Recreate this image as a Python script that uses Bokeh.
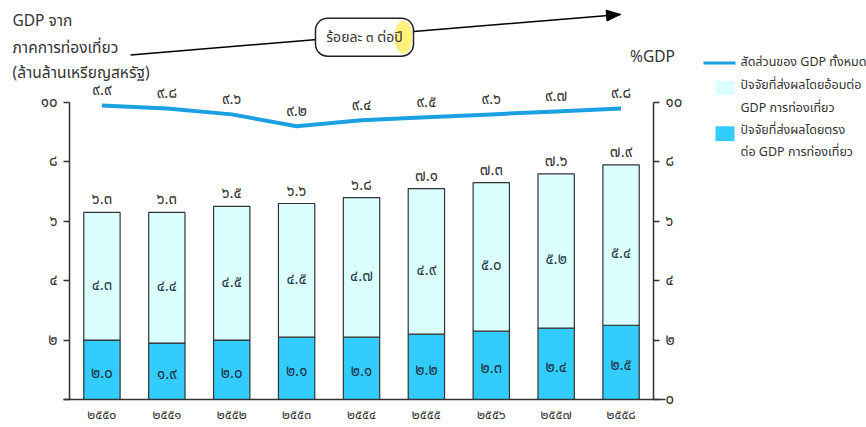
import math
from bokeh.plotting import figure
from bokeh.models import Range1d, FixedTicker, LinearAxis, ColumnDataSource
from bokeh.core.properties import value
from bokeh.embed import file_html
from bokeh.resources import INLINE

# ---------------- data ----------------
years = ["2550", "2551", "2552", "2553", "2554", "2555", "2556", "2557", "2558"]
direct = [2.0, 1.9, 2.0, 2.1, 2.1, 2.2, 2.3, 2.4, 2.5]
indirect = [4.3, 4.4, 4.5, 4.5, 4.7, 4.9, 5.0, 5.2, 5.4]
total = [6.3, 6.3, 6.5, 6.6, 6.8, 7.1, 7.3, 7.6, 7.9]
pct_gdp = [9.9, 9.8, 9.6, 9.2, 9.4, 9.5, 9.6, 9.7, 9.8]
y_ticks = [0, 2, 4, 6, 8, 10]

TH = str.maketrans("0123456789", "๐๑๒๓๔๕๖๗๘๙")
def th(s):
    return str(s).translate(TH)

FONT = "Tahoma, Noto Sans Thai, Noto Sans, DejaVu Sans, sans-serif"
TXT = "#333333"
LIGHT = "#DBFEFF"
BLUE = "#33CCFF"
LINE = "#1BA1E2"

xs = list(range(len(years)))
tops = [d + i for d, i in zip(direct, indirect)]
src = ColumnDataSource(dict(
    x=xs, direct=direct, tops=tops, total=total, pct=pct_gdp,
    total_lbl=[th(f"{v:.1f}") for v in total],
    dir_lbl=[th(f"{v:.1f}") for v in direct],
    ind_lbl=[th(f"{v:.1f}") for v in indirect],
    pct_lbl=[th(f"{v:.1f}") for v in pct_gdp],
    total_y=[v + 0.42 for v in total],
    dir_y=[v / 2 - 0.12 for v in direct],
    ind_y=[d + i / 2 - 0.3 for d, i in zip(direct, indirect)],
    pct_y=[v + 0.5 for v in pct_gdp],
))

W, H = 866, 427
p = figure(width=W, height=H, x_range=Range1d(-0.5, 8.5), y_range=Range1d(0, 10),
           output_backend="svg", toolbar_location=None,
           min_border_left=69, min_border_right=W - 653, min_border_top=102,
           min_border_bottom=H - 402)
p.outline_line_color = None
p.grid.visible = False
p.background_fill_color = "white"

# axes
xa = p.xaxis[0]
xa.ticker = FixedTicker(ticks=xs)
xa.major_label_overrides = {i: th(y) for i, y in enumerate(years)}
xa.major_tick_out = 0
xa.major_tick_in = 0
xa.minor_tick_out = 0
xa.axis_line_color = None
xa.major_label_standoff = 5
xa.major_label_text_font = FONT
xa.major_label_text_font_size = "13px"
xa.major_label_text_color = TXT

ya = p.yaxis[0]
ya.ticker = FixedTicker(ticks=y_ticks)
ya.major_label_overrides = {t: ("" if t == 0 else th(t)) for t in y_ticks}

yr = LinearAxis(ticker=FixedTicker(ticks=y_ticks))
yr.major_label_overrides = {t: th(t) for t in y_ticks}
p.add_layout(yr, "right")

for ax in (ya, yr):
    ax.major_tick_out = 6
    ax.major_tick_in = 0
    ax.minor_tick_out = 0
    ax.minor_tick_in = 0
    ax.axis_line_color = "#333333"
    ax.axis_line_width = 1.5
    ax.major_tick_line_color = "#333333"
    ax.major_tick_line_width = 1.5
    ax.major_label_standoff = 6
    ax.major_label_text_font = FONT
    ax.major_label_text_font_size = "15px"
    ax.major_label_text_color = TXT

# px -> data helpers (frame: x 69..653, y 102..402 on page)
def dx(px):
    return -0.5 + (px - 69) / 64.89
def dy(py):
    return (402 - py) / 30.0

# baseline extending past both axes
p.segment(x0=[dx(63)], y0=[0], x1=[dx(665)], y1=[0],
          line_color="#333333", line_width=1.5, level="overlay")

# bars
p.vbar(x="x", width=0.56, bottom=0, top="direct", source=src,
       fill_color=BLUE, line_color="#333333", line_width=1.2)
p.vbar(x="x", width=0.56, bottom="direct", top="tops", source=src,
       fill_color=LIGHT, line_color="#333333", line_width=1.2)

# share of GDP line
p.line(x="x", y="pct", source=src, line_color=LINE, line_width=4, level="overlay")

# data labels
common = dict(text_font=value(FONT), text_font_size="15px", text_align="center",
              text_baseline="middle", level="overlay", source=src)
p.text(x="x", y="total_y", text="total_lbl", text_color=TXT, **common)
p.text(x="x", y="pct_y", text="pct_lbl", text_color=TXT, **common)
p.text(x="x", y="ind_y", text="ind_lbl", text_color="#2a3b4c", **common)
p.text(x="x", y="dir_y", text="dir_lbl", text_color="#1f3346", **common)

# left title and right axis title
titles = [("GDP จาก", 20), ("ภาคการท่องเที่ยว", 47), ("(ล้านล้านเหรียญสหรัฐ)", 73)]
p.text(x=[dx(12)] * 3, y=[dy(py) for _, py in titles], text=[t for t, _ in titles],
       text_font=value(FONT), text_font_size="15.5px", text_color=TXT,
       text_align="left", text_baseline="middle", level="overlay")
p.text(x=[dx(652)], y=[dy(57)], text=["%GDP"], text_font=value(FONT), text_font_size="15.5px",
       text_color=TXT, text_align="center", text_baseline="middle", level="overlay")

# growth arrow (line + head)
ax0, ay0, ax1, ay1 = 130, 54, 620, 13
p.segment(x0=[dx(ax0)], y0=[dy(ay0)], x1=[dx(ax1)], y1=[dy(ay1)],
          line_color="black", line_width=1.5, level="overlay")
L = math.hypot(ax1 - ax0, ay1 - ay0)
ux, uy = (ax1 - ax0) / L, (ay1 - ay0) / L
nx, ny = -uy, ux
hl, hw = 14, 5.5
head_px = [(ax1, ay1),
           (ax1 - hl * ux + hw * nx, ay1 - hl * uy + hw * ny),
           (ax1 - hl * ux - hw * nx, ay1 - hl * uy - hw * ny)]
p.patch(x=[dx(a) for a, _ in head_px], y=[dy(b) for _, b in head_px],
        fill_color="black", line_color="black", level="overlay")

box_text = "ร้อยละ ๓ ต่อปี"
p.rect(x=[dx(364)], y=[dy(36)], width=98, height=38, width_units="screen",
       height_units="screen", fill_color="white", line_color="#222222", line_width=1.5,
       border_radius=12, level="overlay")
p.ellipse(x=[dx(403)], y=[dy(36)], width=18, height=33, width_units="screen",
          height_units="screen", fill_color="#FFF27A", line_color=None, level="overlay")
p.text(x=[dx(364)], y=[dy(36)], text=[box_text], text_font=value(FONT), text_font_size="14px",
       text_color=TXT, text_align="center", text_baseline="middle", level="overlay")

# legend (manual)
p.segment(x0=[dx(703)], y0=[dy(62)], x1=[dx(735)], y1=[dy(62)], line_color=LINE,
          line_width=3, level="overlay")
p.quad(left=[dx(715)], right=[dx(734)], bottom=[dy(94)], top=[dy(80)], fill_color=LIGHT,
       line_color=None, level="overlay")
p.quad(left=[dx(715)], right=[dx(734)], bottom=[dy(141)], top=[dy(126)], fill_color=BLUE,
       line_color=None, level="overlay")
leg = [("สัดส่วนของ GDP ทั้งหมด", 62), ("ปัจจัยที่ส่งผลโดยอ้อมต่อ", 85),
       ("GDP การท่องเที่ยว", 108), ("ปัจจัยที่ส่งผลโดยตรง", 130), ("ต่อ GDP การท่องเที่ยว", 153)]
p.text(x=[dx(740)] * len(leg), y=[dy(py) for _, py in leg], text=[t for t, _ in leg],
       text_font=value(FONT), text_font_size="12.5px", text_color=TXT,
       text_align="left", text_baseline="middle", level="overlay")

open("out.html", "w").write(file_html(p, INLINE))
